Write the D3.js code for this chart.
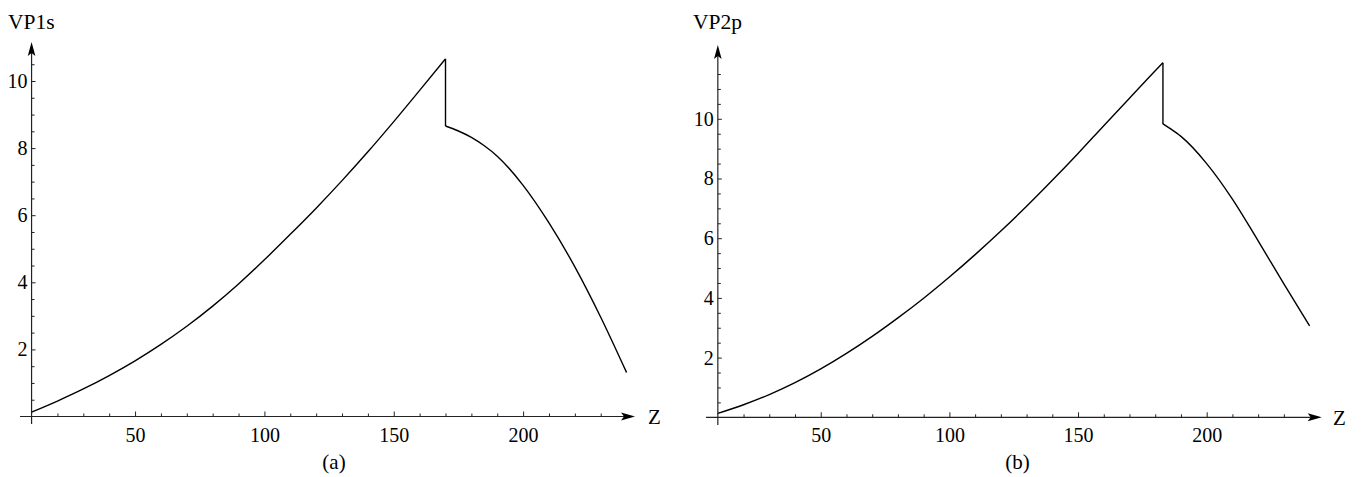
<!DOCTYPE html>
<html><head><meta charset="utf-8">
<script src="https://cdn.jsdelivr.net/npm/d3@7"></script>
<style>
body{margin:0;background:#fff}
text{font-family:"Liberation Serif","Times New Roman",Times,serif;font-size:20px;fill:#000}
</style>
</head><body>
<svg id="c" width="1362" height="477"></svg>
<script>
// ---- data: panel (a) VP1s ----
const zRiseA = [10,20,30,40,50,60,70,80,90,100,110,120,130,140,150,160,170];
const vRiseA = [0.13,0.46,0.82,1.22,1.66,2.15,2.69,3.29,3.95,4.67,5.43,6.21,7.03,7.89,8.79,9.72,10.66];
const zFallA = [170,175,180,185,190,200,210,220,230,240];
const vFallA = [8.66,8.51,8.32,8.07,7.76,6.89,5.77,4.46,2.96,1.31];
// ---- data: panel (b) VP2p ----
const zRiseB = [10,20,30,40,50,60,70,80,90,100,110,120,130,140,150,160,170,180,183];
const vRiseB = [0.13,0.42,0.76,1.16,1.62,2.14,2.71,3.33,3.99,4.70,5.45,6.24,7.07,7.94,8.84,9.77,10.69,11.61,11.88];
const zFallB = [183,186,190,200,210,220,230,240];
const vFallB = [9.83,9.66,9.41,8.50,7.31,5.91,4.47,3.06];
// ---- ticks & labels ----
const xMajorTicks = [50,100,150,200];
const xMinorTicks = [20,30,40,60,70,80,90,110,120,130,140,160,170,180,190,210,220,230];
const yMajorTicks = [2,4,6,8,10];
const yMinorTicksA = [0.5,1,1.5,2.5,3,3.5,4.5,5,5.5,6.5,7,7.5,8.5,9,9.5,10.5];
const yMinorTicksB = [0.5,1,1.5,2.5,3,3.5,4.5,5,5.5,6.5,7,7.5,8.5,9,9.5,10.5,11,11.5];
const xLabel = "Z";
const yLabels = ["VP1s","VP2p"];
const captions = ["(a)","(b)"];

const svg = d3.select("#c");
const FONT = '"Liberation Serif","Times New Roman",Times,serif';

const panels = [
  {zr:zRiseA, vr:vRiseA, zf:zFallA, vf:vFallA, yMinor:yMinorTicksA,
   x0:5.7, x240:626.6, y0:416.5, y10:81.0,
   axL:20, axR:635, axBottom:424, axTop:42,
   ylab:yLabels[0], ylabX:8, cap:captions[0], capX:334, zX:648},
  {zr:zRiseB, vr:vRiseB, zf:zFallB, vf:vFallB, yMinor:yMinorTicksB,
   x0:692.1, x240:1309.6, y0:417.3, y10:118.8,
   axL:706, axR:1321.7, axBottom:425, axTop:45,
   ylab:yLabels[1], ylabX:693, cap:captions[1], capX:1017.5, zX:1333}
];

panels.forEach(p=>{
  const x = d3.scaleLinear().domain([0,240]).range([p.x0,p.x240]);
  const y = d3.scaleLinear().domain([0,10]).range([p.y0,p.y10]);
  const g = svg.append("g");
  const ax = x(10), ay = y(0);
  const axisColor = "#222";

  g.append("line").attr("x1",p.axL).attr("x2",p.axR-8).attr("y1",ay).attr("y2",ay)
    .attr("stroke",axisColor).attr("stroke-width",1.2);
  g.append("line").attr("x1",ax).attr("x2",ax).attr("y1",p.axBottom).attr("y2",p.axTop+8)
    .attr("stroke",axisColor).attr("stroke-width",1.2);
  g.append("path").attr("d",`M${p.axR},${ay} L${p.axR-14},${ay-4} L${p.axR-11},${ay} L${p.axR-14},${ay+4} Z`)
    .attr("fill","#000");
  g.append("path").attr("d",`M${ax},${p.axTop} L${ax-3.8},${p.axTop+14} L${ax},${p.axTop+11} L${ax+3.8},${p.axTop+14} Z`)
    .attr("fill","#000");

  const style = s=>{
    s.attr("font-family",FONT).attr("font-size",20);
    s.select(".domain").remove();
    s.selectAll("line").attr("stroke",axisColor).attr("stroke-width",1);
    s.selectAll("text").style("font-family",FONT).style("font-size","20px").attr("fill","#000");
  };
  const xMinorAxis = d3.axisBottom(x).tickValues(xMinorTicks).tickSizeInner(-3).tickSizeOuter(0).tickFormat("");
  const xMajorAxis = d3.axisBottom(x).tickValues(xMajorTicks).tickSizeInner(-5).tickSizeOuter(0).tickPadding(11);
  [xMinorAxis,xMajorAxis].forEach(a=>style(g.append("g").attr("transform",`translate(0,${ay})`).call(a)));
  const yMinorAxis = d3.axisLeft(y).tickValues(p.yMinor).tickSizeInner(-3).tickSizeOuter(0).tickFormat("");
  const yMajorAxis = d3.axisLeft(y).tickValues(yMajorTicks).tickSizeInner(-4).tickSizeOuter(0).tickPadding(4);
  [yMinorAxis,yMajorAxis].forEach(a=>style(g.append("g").attr("transform",`translate(${ax},0)`).call(a)));

  const line = d3.line().x(d=>x(d[0])).y(d=>y(d[1])).curve(d3.curveMonotoneX);
  const rise = p.zr.map((z,i)=>[z,p.vr[i]]);
  const fall = p.zf.map((z,i)=>[z,p.vf[i]]);
  const drop = [rise[rise.length-1], fall[0]];
  [rise, fall].forEach(d=>{
    g.append("path").attr("d",line(d)).attr("fill","none").attr("stroke","#000").attr("stroke-width",1.4);
  });
  g.append("path").attr("d",d3.line().x(d=>x(d[0])).y(d=>y(d[1]))(drop))
    .attr("fill","none").attr("stroke","#000").attr("stroke-width",1.4);

  g.append("text").attr("x",p.ylabX).attr("y",29).style("font-size","21.5px").text(p.ylab);
  g.append("text").attr("x",p.zX).attr("y",ay).attr("dy","0.35em").style("font-size","21px").text(xLabel);
  g.append("text").attr("x",p.capX).attr("y",469).attr("text-anchor","middle").style("font-size","21px").text(p.cap);
});
</script>
</body></html>
